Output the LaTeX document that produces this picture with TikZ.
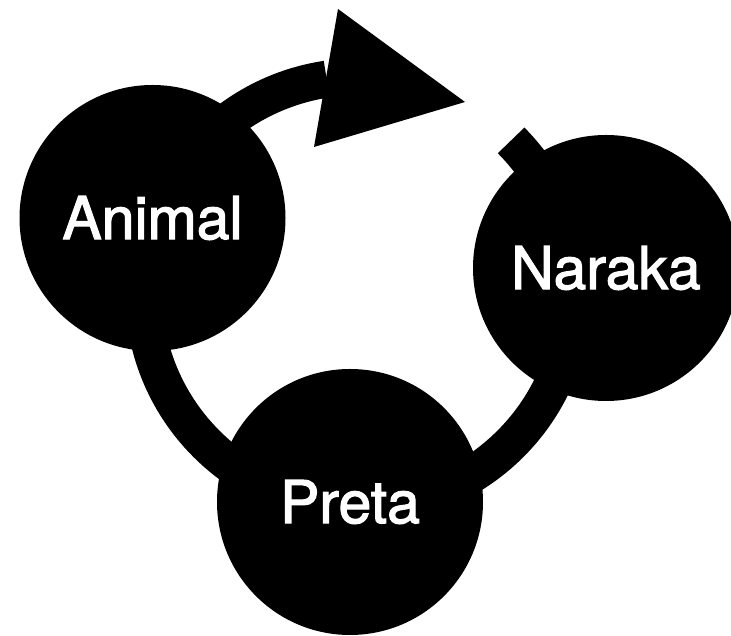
\documentclass[tikz,border=0pt]{standalone}
\usepackage{fontspec}
\setmainfont{TeX Gyre Heros}
\newfontfamily\realmfont[FakeBold=2]{TeX Gyre Heros}
\begin{document}
\begin{tikzpicture}[x=1pt,y=1pt,
  realm/.style={circle, fill=black, text=white, minimum size=266pt, inner sep=0pt,
                font=\realmfont\fontsize{59}{70}\selectfont},
  band/.style={line width=37pt, draw=black, line cap=butt}]
\useasboundingbox (0,0) rectangle (731,636);
\coordinate (bandstart) at (511.1,495.6);
\coordinate (headtop) at (338,627);
\coordinate (headtip) at (465,534);
\coordinate (headbot) at (314,489);
\draw[band] (bandstart) arc[start angle=44.76, end angle=-261.5, radius=215pt] coordinate (bandend);
\fill[black] (headtop) -- (headtip) -- (headbot) -- cycle;
\node[realm] (animal) at (152.5,418) {Animal};
\node[realm] (naraka) at (606,368) {Naraka};
\node[realm] (preta) at (350,134) {Preta};
\end{tikzpicture}
\end{document}
